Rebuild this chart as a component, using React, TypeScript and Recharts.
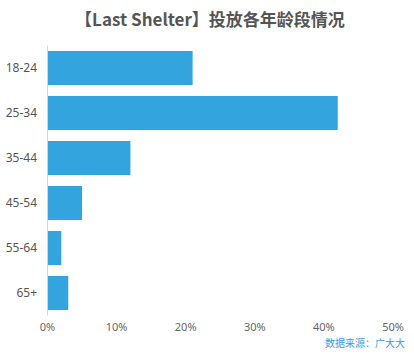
import React from 'react';
import { BarChart, Bar, XAxis, YAxis } from 'recharts';

const categories = ['18-24', '25-34', '35-44', '45-54', '55-64', '65+'];
const shares = [21, 42, 12, 5, 2, 3];
const xTicks = [0, 10, 20, 30, 40, 50];

const data = categories.map((name, i) => ({ name, value: shares[i] }));

const FONT = '"Noto Sans", "Noto Sans CJK SC", sans-serif';

export default function App() {
  return (
    <div style={{ position: 'absolute', left: 0, top: 0, width: 414, height: 356, background: '#fff', fontFamily: FONT }}>
      <div
        style={{
          position: 'absolute',
          left: 0,
          width: 420,
          top: 6,
          textAlign: 'center',
          fontSize: 17,
          fontWeight: 700,
          color: '#555',
          lineHeight: '26px',
          fontFamily: '"Noto Sans CJK SC", "Noto Sans", sans-serif',
        }}
      >
        【Last Shelter】投放各年龄段情况
      </div>
      <BarChart
        width={414}
        height={356}
        data={data}
        layout="vertical"
        margin={{ top: 45.5, right: 21, bottom: 10.5, left: 0 }}
        barCategoryGap={5.5}
      >
        <XAxis
          type="number"
          domain={[0, 50]}
          ticks={xTicks}
          tickFormatter={(v: number) => `${v}%`}
          axisLine={false}
          tickLine={false}
          tick={{ fill: '#666', fontSize: 11, fontFamily: FONT }}
          interval={0}
          height={30}
        />
        <YAxis
          type="category"
          dataKey="name"
          width={47.5}
          axisLine={{ stroke: '#d6d6d6' }}
          tickLine={false}
          tickMargin={4.5}
          tick={{ fill: '#555', fontSize: 12, fontFamily: FONT }}
        />
        <Bar dataKey="value" fill="#33A4DD" isAnimationActive={false} />
      </BarChart>
      <div
        style={{
          position: 'absolute',
          right: 9,
          top: 336,
          fontSize: 10,
          lineHeight: '14px',
          color: '#3A9BDC',
          fontFamily: '"Noto Sans CJK SC", sans-serif',
        }}
      >
        数据来源：广大大
      </div>
    </div>
  );
}
